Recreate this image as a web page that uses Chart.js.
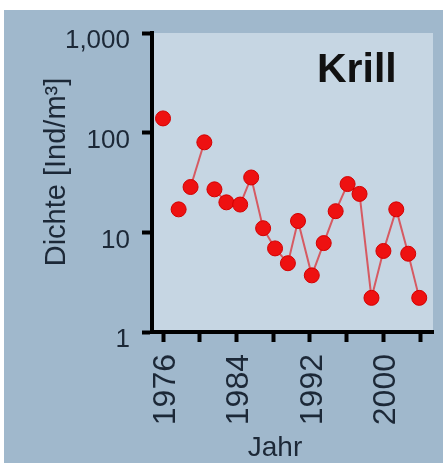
<!DOCTYPE html>
<html>
<head>
<meta charset="utf-8">
<script src="https://cdn.jsdelivr.net/npm/chart.js@4.4.1/dist/chart.umd.min.js"></script>
<style>
  html, body { margin: 0; padding: 0; background: #fff; }
  #wrap { width: 443px; height: 470px; }
</style>
</head>
<body>
<div id="wrap"><canvas id="krill__graph"></canvas></div>
<script>
// Krill density per survey (x = year, y = individuals per m3)
const years = [1976, 1977.7, 1979, 1980.5, 1981.6, 1982.9, 1984.4, 1985.6, 1986.9, 1988.2, 1989.6,
               1990.7, 1992.2, 1993.5, 1994.8, 1996.1, 1997.4, 1998.7, 2000, 2001.4, 2002.7, 2003.9];
const density = [139, 17, 28.5, 80, 27, 20, 19, 35.5, 11, 6.9, 4.9,
                 13, 3.7, 7.8, 16.3, 30.5, 24.3, 2.2, 6.5, 17, 6.1, 2.2];
// no connecting line after these points (gaps in the series)
const noLineAfter = [0, 1, 3];
const yTicks = [1, 10, 100, 1000];
const xTicks = [1976, 1980, 1984, 1988, 1992, 1996, 2000, 2004];
const xLabeled = [1976, 1984, 1992, 2000];

const textColor = '#1c2837';
const dotColor = '#ee1111';
const lineColor = '#d65a62';

const backdrop = {
  id: 'backdrop',
  beforeDraw(chart) {
    const ctx = chart.ctx;
    const a = chart.chartArea;
    ctx.save();
    ctx.fillStyle = '#ffffff';
    ctx.fillRect(0, 0, chart.width, chart.height);
    ctx.fillStyle = '#a0b8cc';
    ctx.fillRect(4, 10, chart.width - 4, 453);
    ctx.fillStyle = '#c6d6e3';
    ctx.fillRect(a.left, a.top, a.right - a.left, a.bottom - a.top);
    ctx.restore();
  },
  afterDraw(chart) {
    const ctx = chart.ctx;
    ctx.save();
    ctx.fillStyle = '#111';
    ctx.font = 'bold 41px "Liberation Sans", Arial, sans-serif';
    ctx.textAlign = 'left';
    ctx.textBaseline = 'alphabetic';
    ctx.fillText('Krill', 317, 82);

    ctx.fillStyle = textColor;
    ctx.font = '28px "Liberation Sans", Arial, sans-serif';
    ctx.textAlign = 'center';
    ctx.fillText('Jahr', 275, 456);

    ctx.translate(65, 172);
    ctx.rotate(-Math.PI / 2);
    ctx.font = '29px "Liberation Sans", Arial, sans-serif';
    ctx.fillText('Dichte [Ind/m³]', 0, 0);
    ctx.restore();
  }
};

new Chart(document.querySelector('#krill__graph'), {
  type: 'line',
  data: {
    datasets: [{
      data: years.map((x, i) => ({ x: x, y: density[i] })),
      borderColor: lineColor,
      borderWidth: 2,
      pointRadius: 7.5,
      pointBackgroundColor: dotColor,
      pointBorderColor: '#d40000',
      pointBorderWidth: 1,
      segment: {
        borderColor: ctx => noLineAfter.includes(ctx.p0DataIndex) ? 'transparent' : lineColor
      }
    }]
  },
  options: {
    responsive: true,
    maintainAspectRatio: false,
    animation: false,
    layout: { padding: { top: 33, right: 10, left: 0, bottom: 0 } },
    plugins: {
      legend: { display: false },
      tooltip: { enabled: false }
    },
    scales: {
      x: {
        type: 'linear',
        min: 1974.8,
        max: 2005.4,
        afterBuildTicks: axis => { axis.ticks = xTicks.map(v => ({ value: v })); },
        afterFit: scale => {
          scale.height = 138;
          scale.paddingLeft = 0;
          scale.paddingRight = 0;
        },
        border: { display: true, color: '#000', width: 4 },
        grid: { drawOnChartArea: false, drawTicks: true, tickLength: 10, tickWidth: 4, tickColor: '#000' },
        ticks: {
          color: textColor,
          font: { family: '"Liberation Sans", Arial, sans-serif', size: 32 },
          minRotation: 90,
          maxRotation: 90,
          padding: 12,
          labelOffset: 3,
          autoSkip: false,
          callback: v => xLabeled.includes(v) ? String(v) : ''
        }
      },
      y: {
        type: 'logarithmic',
        min: 1,
        max: 1000,
        afterBuildTicks: axis => { axis.ticks = yTicks.map(v => ({ value: v })); },
        afterFit: scale => {
          scale.width = 152;
          scale.paddingTop = 0;
          scale.paddingBottom = 0;
        },
        border: { display: true, color: '#000', width: 4 },
        grid: { drawOnChartArea: false, drawTicks: true, tickLength: 10, tickWidth: 4, tickColor: '#000' },
        ticks: {
          color: textColor,
          font: { family: '"Liberation Sans", Arial, sans-serif', size: 26 },
          padding: 12,
          labelOffset: 8,
          callback: v => Number(v).toLocaleString('en-US')
        }
      }
    }
  },
  plugins: [backdrop]
});
</script>
</body>
</html>
